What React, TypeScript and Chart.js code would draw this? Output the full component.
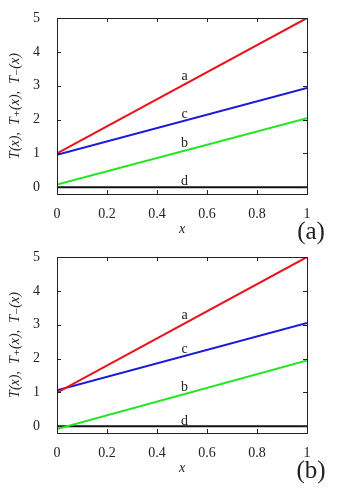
import React, { useEffect, useRef } from "react";
import { Chart, registerables } from "chart.js";
Chart.register(...registerables);

// ---- data ----
const xValues = [0, 1];
const aTopValues = [1.0, 5.0];
const bTopValues = [0.08, 2.04];
const cTopValues = [0.96, 2.93];
const dTopValues = [0, 0];
const aBottomValues = [0.99, 5.0];
const bBottomValues = [-0.08, 1.94];
const cBottomValues = [1.06, 3.05];
const dBottomValues = [0, 0];
const curveNames = ["a", "b", "c", "d"];
const labelX = [0.51, 0.51, 0.51, 0.51];
const topLabelY = [3.29, 1.3, 2.16, 0.17];
const bottomLabelY = [3.27, 1.14, 2.27, 0.15];
const xTicks = [0, 0.2, 0.4, 0.6, 0.8, 1];
const yTicks = [0, 1, 2, 3, 4, 5];
const panelTags = ["(a)", "(b)"];
const yTitle = "T(x),  T\u208A(x),  T\u208B(x)";
const xTitle = "x";

const COLORS = ["#e8141c", "#22e622", "#1a1ad8", "#111111"];
const SERIF = "'Liberation Serif', 'DejaVu Serif', serif";
const TEXT = "#222";

type Panel = { values: number[][]; labelY: number[]; tag: string };
const panels: Panel[] = [
  { values: [aTopValues, bTopValues, cTopValues, dTopValues], labelY: topLabelY, tag: panelTags[0] },
  { values: [aBottomValues, bBottomValues, cBottomValues, dBottomValues], labelY: bottomLabelY, tag: panelTags[1] },
];

function PanelChart({ panel, top }: { panel: Panel; top: number }) {
  const ref = useRef<HTMLCanvasElement>(null);
  useEffect(() => {
    const canvas = ref.current!;
    const decor = {
      id: "decor",
      afterDraw(chart: any) {
        const { ctx, chartArea, scales } = chart;
        const { left, right, top: t, bottom } = chartArea;
        const x = scales.x;
        const y = scales.y;
        ctx.save();
        ctx.strokeStyle = "#222";
        ctx.lineWidth = 1;
        const line = (x1: number, y1: number, x2: number, y2: number) => {
          ctx.beginPath();
          ctx.moveTo(x1, y1);
          ctx.lineTo(x2, y2);
          ctx.stroke();
        };
        xTicks.forEach((v) => {
          const px = Math.round(x.getPixelForValue(v)) + 0.5;
          line(px, bottom, px, bottom - 4);
          line(px, t, px, t + 4);
        });
        yTicks.forEach((v) => {
          const py = Math.round(y.getPixelForValue(v)) + 0.5;
          line(left, py, left + 4, py);
          line(right, py, right - 4, py);
        });
        ctx.strokeRect(Math.round(left) + 0.5, Math.round(t) + 0.5, Math.round(right - left), Math.round(bottom - t));
        // curve labels
        ctx.fillStyle = TEXT;
        ctx.font = `14px ${SERIF}`;
        ctx.textAlign = "center";
        ctx.textBaseline = "middle";
        curveNames.forEach((n, i) => {
          ctx.fillText(n, x.getPixelForValue(labelX[i]), y.getPixelForValue(panel.labelY[i]));
        });
        // panel tag
        ctx.font = `25px ${SERIF}`;
        ctx.fillText(panel.tag, right + 4, bottom + 38);
        ctx.restore();
      },
    };
    const chart = new Chart(canvas, {
      type: "line",
      data: {
        datasets: panel.values.map((vals, i) => ({
          label: curveNames[i],
          data: xValues.map((xv, j) => ({ x: xv, y: vals[j] })),
          borderColor: COLORS[i],
          backgroundColor: COLORS[i],
          borderWidth: 2,
          pointRadius: 0,
          tension: 0,
          fill: false,
        })),
      },
      options: {
        animation: false,
        responsive: false,
        events: [],
        layout: { padding: { top: 18, right: 37, left: 0, bottom: 17 } },
        plugins: { legend: { display: false }, tooltip: { enabled: false } },
        scales: {
          x: {
            type: "linear",
            min: 0,
            max: 1,
            grid: { display: false },
            border: { display: false },
            afterBuildTicks: (s: any) => {
              s.ticks = xTicks.map((v) => ({ value: v }));
            },
            afterFit: (s: any) => {
              s.height = 45;
            },
            ticks: {
              padding: 4,
              color: TEXT,
              font: { family: SERIF, size: 14 },
              callback: (v: any) => String(v),
            },
            title: {
              display: true,
              text: xTitle,
              color: TEXT,
              font: { family: SERIF, size: 14, style: "italic" },
              padding: { top: 0, bottom: 1 },
            },
          },
          y: {
            type: "linear",
            min: -0.2,
            max: 5,
            grid: { display: false },
            border: { display: false },
            afterBuildTicks: (s: any) => {
              s.ticks = yTicks.map((v) => ({ value: v }));
            },
            afterFit: (s: any) => {
              s.width = 57;
            },
            ticks: {
              padding: 9,
              color: TEXT,
              font: { family: SERIF, size: 14 },
              callback: (v: any) => String(v),
            },
            title: {
              display: true,
              text: yTitle,
              color: TEXT,
              font: { family: SERIF, size: 14, style: "italic" },
              padding: { top: 7, bottom: 0 },
            },
          },
        },
      },
      plugins: [decor],
    } as any);
    return () => chart.destroy();
  }, [panel]);
  return (
    <canvas
      ref={ref}
      width={344}
      height={256}
      style={{ position: "absolute", left: 0, top, width: 344, height: 256, display: "block" }}
    />
  );
}

export default function App() {
  return (
    <div style={{ position: "absolute", left: 0, top: 0, width: 344, height: 495, background: "#fff" }}>
      <PanelChart panel={panels[0]} top={0} />
      <PanelChart panel={panels[1]} top={239} />
    </div>
  );
}
